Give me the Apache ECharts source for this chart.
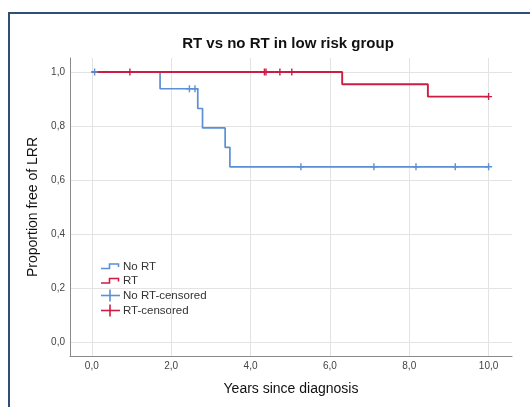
<!DOCTYPE html>
<html>
<head>
<meta charset="utf-8">
<script src="https://cdn.jsdelivr.net/npm/echarts@6/dist/echarts.min.js"></script>
<style>
html,body{margin:0;padding:0;background:#fff;}
#chart{width:530px;height:407px;}
</style>
</head>
<body>
<div id="chart"></div>
<script>
// ---- data ----
const titleText = 'RT vs no RT in low risk group';
const xAxisTitle = 'Years since diagnosis';
const yAxisTitle = 'Proportion free of LRR';
const legendNames = ['No RT', 'RT', 'No RT-censored', 'RT-censored'];

// Kaplan-Meier step curves (event times and survival after each)
const noRtTimes = [0, 1.72, 2.67, 2.79, 3.36, 3.48, 10.0];
const noRtSurv  = [1.0, 0.938, 0.865, 0.793, 0.721, 0.649, 0.649];
const rtTimes   = [0, 6.31, 8.47, 10.0];
const rtSurv    = [1.0, 0.955, 0.909, 0.909];

// censored observations
const noRtCensorTimes = [0.07, 2.46, 2.60, 5.27, 7.11, 8.17, 9.16, 10.0];
const noRtCensorSurv  = [1.0, 0.938, 0.938, 0.649, 0.649, 0.649, 0.649, 0.649];
const rtCensorTimes   = [0.96, 4.35, 4.39, 4.74, 5.04, 10.0];
const rtCensorSurv    = [1.0, 1.0, 1.0, 1.0, 1.0, 0.909];

// ---- styling ----
const BLUE = '#5b8fd6';
const RED = '#cc1d45';
const FONT = '"Liberation Sans", Arial, sans-serif';
const pairs = (xs, ys) => xs.map((x, i) => [x, ys[i]]);
const plusPath = 'path://M3.2,0h1.6v8h-1.6z M0,3.2h8v1.6h-8z';
const fmt = v => v.toFixed(1).replace('.', ',');

const chart = echarts.init(document.getElementById('chart'), null, {renderer: 'canvas'});

// legend drawn as graphic elements
const lgX = 101, lgTextX = 123;
const lgRows = [266.5, 281, 295.5, 310.5];
function stepIcon(y, color) {
  return {
    type: 'polyline', silent: true,
    shape: {points: [[lgX, y + 2], [lgX + 8.5, y + 2], [lgX + 8.5, y - 2.5], [lgX + 17.5, y - 2.5], [lgX + 17.5, y + 0.5]]},
    style: {stroke: color, lineWidth: 1.6, fill: null}
  };
}
function crossIcon(y, color) {
  return {
    type: 'group', silent: true,
    children: [
      {type: 'line', shape: {x1: lgX, y1: y, x2: lgX + 19, y2: y}, style: {stroke: color, lineWidth: 1.6}},
      {type: 'line', shape: {x1: lgX + 9, y1: y - 6, x2: lgX + 9, y2: y + 6}, style: {stroke: color, lineWidth: 1.6}}
    ]
  };
}
const legendColors = [BLUE, RED, BLUE, RED];
const legendGraphics = [];
legendNames.forEach((name, i) => {
  legendGraphics.push(i < 2 ? stepIcon(lgRows[i], legendColors[i]) : crossIcon(lgRows[i], legendColors[i]));
  legendGraphics.push({
    type: 'text', silent: true, x: lgTextX, y: lgRows[i],
    style: {text: name, fill: '#333', font: '11.5px ' + FONT, textVerticalAlign: 'middle', verticalAlign: 'middle'}
  });
});

const option = {
  animation: false,
  backgroundColor: '#ffffff',
  title: {
    text: titleText,
    left: 283, top: 31, textAlign: 'center',
    textStyle: {fontFamily: FONT, fontSize: 15, fontWeight: 'bold', color: '#111'}
  },
  grid: {left: 70, top: 58, width: 442, height: 298, containLabel: false},
  xAxis: {
    type: 'value', min: -0.55, max: 10.59, splitNumber: 5, minInterval: 2, maxInterval: 2,
    name: xAxisTitle, nameLocation: 'middle', nameGap: 26,
    nameTextStyle: {fontFamily: FONT, fontSize: 14, color: '#111'},
    axisLine: {show: true, onZero: false, lineStyle: {color: '#8a8a8a', width: 1}},
    axisTick: {show: false},
    axisLabel: {show: true, showMinLabel: false, showMaxLabel: false, margin: 5, fontFamily: FONT, fontSize: 10, color: '#444', formatter: fmt},
    splitLine: {show: true, showMinLine: false, showMaxLine: false, lineStyle: {color: '#e3e3e3', width: 1}}
  },
  yAxis: {
    type: 'value', min: -0.052, max: 1.052, splitNumber: 5, minInterval: 0.2, maxInterval: 0.2,
    name: yAxisTitle, nameLocation: 'middle', nameGap: 29, nameRotate: 90,
    nameTextStyle: {fontFamily: FONT, fontSize: 14, color: '#111'},
    axisLine: {show: true, onZero: false, lineStyle: {color: '#8a8a8a', width: 1}},
    axisTick: {show: false},
    axisLabel: {show: true, showMinLabel: false, showMaxLabel: false, margin: 5, fontFamily: FONT, fontSize: 10, color: '#444', formatter: fmt},
    splitLine: {show: true, showMinLine: false, showMaxLine: false, lineStyle: {color: '#e3e3e3', width: 1}}
  },
  series: [
    {
      name: legendNames[0], type: 'line', step: 'end', showSymbol: false, symbol: 'none',
      data: pairs(noRtTimes, noRtSurv), lineStyle: {color: BLUE, width: 1.7}, itemStyle: {color: BLUE}, z: 2
    },
    {
      name: legendNames[1], type: 'line', step: 'end', showSymbol: false, symbol: 'none',
      data: pairs(rtTimes, rtSurv), lineStyle: {color: RED, width: 1.9}, itemStyle: {color: RED}, z: 3
    },
    {
      name: legendNames[2], type: 'scatter', symbol: plusPath, symbolSize: 7,
      data: pairs(noRtCensorTimes, noRtCensorSurv), itemStyle: {color: BLUE, opacity: 1}, z: 4
    },
    {
      name: legendNames[3], type: 'scatter', symbol: plusPath, symbolSize: 7,
      data: pairs(rtCensorTimes, rtCensorSurv), itemStyle: {color: RED, opacity: 1}, z: 5
    }
  ],
  graphic: [
    {
      type: 'rect', silent: true, z: 100,
      shape: {x: 9, y: 13, width: 700, height: 600},
      style: {fill: null, stroke: '#2f4f78', lineWidth: 2}
    }
  ].concat(legendGraphics)
};
chart.setOption(option);
</script>
</body>
</html>
